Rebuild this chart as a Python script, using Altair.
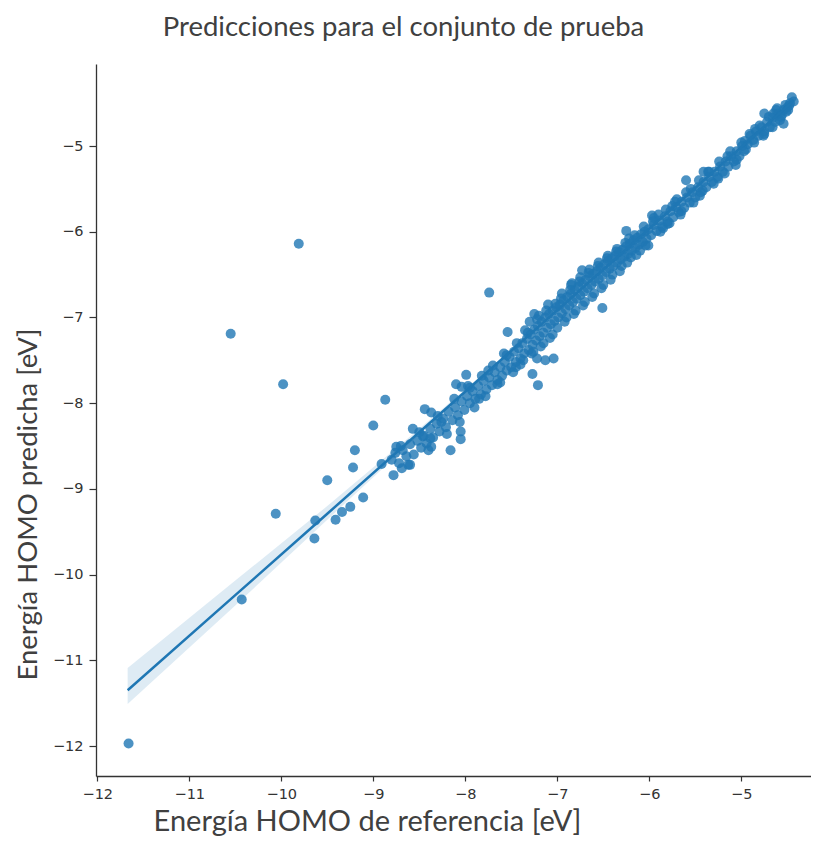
import altair as alt
import pandas as pd

TITLE = "Predicciones para el conjunto de prueba"
X_TITLE = "Energía HOMO de referencia [eV]"
Y_TITLE = "Energía HOMO predicha [eV]"
x_ticks = [-12, -11, -10, -9, -8, -7, -6, -5]
y_ticks = [-12, -11, -10, -9, -8, -7, -6, -5]

# (referencia, predicha)
outlier_points = [
    (-11.66, -11.97), (-10.43, -10.29), (-10.55, -7.19), (-9.81, -6.14), (-9.98, -7.78),
    (-10.06, -9.29), (-9.64, -9.58), (-9.63, -9.37), (-9.50, -8.90), (-9.41, -9.36),
    (-9.34, -9.27), (-9.25, -9.21), (-9.22, -8.75), (-9.20, -8.55), (-9.11, -9.10),
    (-9.00, -8.26), (-8.91, -8.71), (-8.87, -7.96), (-8.78, -8.84), (-8.75, -8.51),
    (-8.69, -8.76), (-8.60, -8.72), (-8.57, -8.30), (-8.44, -8.07), (-8.37, -8.11),
    (-8.38, -8.41), (-8.37, -8.51), (-8.46, -8.39), (-8.26, -8.22), (-8.16, -8.55),
    (-8.05, -8.33), (-8.05, -8.42), (-8.10, -7.78), (-8.04, -7.81), (-7.99, -7.67),
    (-7.74, -6.71), (-7.54, -7.17), (-7.25, -6.96), (-7.27, -7.66), (-7.21, -7.79),
    (-7.22, -7.48), (-7.13, -7.50), (-7.04, -7.48), (-6.73, -6.45), (-6.51, -6.89),
    (-6.84, -6.60), (-6.25, -5.99), (-6.01, -6.16), (-5.97, -5.81), (-5.80, -5.91),
    (-5.60, -5.40), (-5.41, -5.30), (-4.75, -4.62), (-4.54, -4.74), (-4.45, -4.43),
    (-4.43, -4.48),
]

band_a = [
    (-8.80, -8.66), (-8.76, -8.58), (-8.72, -8.70), (-8.68, -8.55), (-8.64, -8.62),
    (-8.60, -8.48), (-8.56, -8.60), (-8.52, -8.44), (-8.48, -8.52), (-8.45, -8.38),
    (-8.42, -8.47), (-8.38, -8.30), (-8.35, -8.40), (-8.31, -8.24), (-8.28, -8.33),
    (-8.24, -8.18), (-8.21, -8.28), (-8.18, -8.10), (-8.14, -8.20), (-8.11, -8.05),
    (-8.08, -8.14), (-8.04, -7.98), (-8.01, -8.08),
    (-8.70, -8.50), (-8.62, -8.72), (-8.50, -8.34), (-8.40, -8.55), (-8.30, -8.15),
    (-8.20, -8.36), (-8.12, -7.95), (-8.06, -8.22),
]

band_b = [
    (-7.98, -7.92), (-7.95, -8.00), (-7.92, -7.86), (-7.89, -7.95), (-7.86, -7.80),
    (-7.83, -7.90), (-7.80, -7.74), (-7.77, -7.84), (-7.74, -7.70), (-7.71, -7.79),
    (-7.68, -7.64), (-7.65, -7.73), (-7.62, -7.58), (-7.60, -7.68), (-7.57, -7.52),
    (-7.55, -7.62), (-7.52, -7.46), (-7.50, -7.58), (-7.47, -7.40), (-7.45, -7.52),
    (-7.42, -7.36), (-7.40, -7.48), (-7.38, -7.30), (-7.36, -7.42), (-7.33, -7.25),
    (-7.31, -7.38), (-7.29, -7.20), (-7.27, -7.32), (-7.25, -7.14), (-7.23, -7.27),
    (-7.21, -7.10), (-7.19, -7.22), (-7.17, -7.05), (-7.15, -7.18), (-7.13, -7.00),
    (-7.11, -7.12), (-7.09, -6.96), (-7.07, -7.08), (-7.05, -6.92), (-7.03, -7.04),
    (-7.01, -6.88),
    (-7.95, -7.82), (-7.85, -7.95), (-7.75, -7.62), (-7.65, -7.78), (-7.55, -7.44),
    (-7.45, -7.58), (-7.35, -7.15), (-7.30, -7.05), (-7.20, -6.98), (-7.10, -6.85),
    (-7.15, -7.30), (-7.05, -7.20), (-7.40, -7.55), (-7.28, -7.42),
    (-7.97, -7.80), (-7.90, -8.05), (-7.82, -7.68), (-7.78, -7.92), (-7.70, -7.56),
    (-7.62, -7.76), (-7.58, -7.42), (-7.48, -7.64), (-7.44, -7.30), (-7.37, -7.50),
    (-7.32, -7.18), (-7.26, -7.40), (-7.22, -7.02), (-7.18, -7.34), (-7.12, -6.92),
    (-7.08, -7.24), (-7.02, -6.84), (-7.00, -7.12),
]

band_c = [
    (-6.99, -7.00), (-6.97, -6.85), (-6.95, -6.95), (-6.93, -6.80), (-6.91, -6.90),
    (-6.89, -6.76), (-6.87, -6.86), (-6.85, -6.72), (-6.83, -6.82), (-6.81, -6.68),
    (-6.79, -6.78), (-6.77, -6.64), (-6.75, -6.74), (-6.73, -6.60), (-6.71, -6.70),
    (-6.69, -6.56), (-6.67, -6.66), (-6.65, -6.52), (-6.63, -6.62), (-6.61, -6.49),
    (-6.59, -6.58), (-6.57, -6.46), (-6.55, -6.55), (-6.53, -6.42), (-6.51, -6.51),
    (-6.49, -6.38), (-6.47, -6.47), (-6.45, -6.34), (-6.43, -6.43), (-6.41, -6.31),
    (-6.39, -6.40), (-6.37, -6.28), (-6.35, -6.36), (-6.33, -6.24), (-6.31, -6.32),
    (-6.29, -6.21), (-6.27, -6.29), (-6.25, -6.17), (-6.23, -6.26), (-6.21, -6.14),
    (-6.19, -6.22), (-6.17, -6.10), (-6.15, -6.19), (-6.13, -6.07), (-6.11, -6.15),
    (-6.09, -6.03), (-6.07, -6.12), (-6.05, -6.00), (-6.03, -6.08), (-6.01, -5.97),
    (-6.90, -7.00), (-6.80, -6.92), (-6.70, -6.82), (-6.60, -6.72), (-6.50, -6.62),
    (-6.40, -6.50), (-6.30, -6.40), (-6.20, -6.30), (-6.10, -6.22), (-6.95, -6.72),
    (-6.85, -6.62), (-6.75, -6.53), (-6.65, -6.44), (-6.55, -6.36), (-6.45, -6.28),
    (-6.35, -6.20), (-6.22, -6.08),
    (-6.96, -6.78), (-6.92, -7.05), (-6.86, -6.68), (-6.82, -6.96), (-6.76, -6.58),
    (-6.72, -6.86), (-6.66, -6.48), (-6.62, -6.76), (-6.56, -6.40), (-6.52, -6.66),
    (-6.46, -6.31), (-6.42, -6.56), (-6.36, -6.23), (-6.32, -6.46), (-6.26, -6.13),
    (-6.24, -6.36), (-6.16, -6.04), (-6.14, -6.27), (-6.06, -5.94), (-6.04, -6.16),
]

band_d = [
    (-5.98, -6.04), (-5.95, -5.92), (-5.92, -5.99), (-5.89, -5.87), (-5.86, -5.94),
    (-5.83, -5.82), (-5.80, -5.88), (-5.77, -5.76), (-5.74, -5.83), (-5.71, -5.71),
    (-5.68, -5.77), (-5.65, -5.65), (-5.62, -5.72), (-5.59, -5.60), (-5.56, -5.66),
    (-5.53, -5.54), (-5.50, -5.60), (-5.47, -5.48), (-5.44, -5.54), (-5.41, -5.42),
    (-5.38, -5.48), (-5.35, -5.36), (-5.32, -5.42), (-5.29, -5.30), (-5.26, -5.36),
    (-5.23, -5.24), (-5.20, -5.30), (-5.17, -5.18), (-5.14, -5.24), (-5.11, -5.12),
    (-5.08, -5.18), (-5.05, -5.06), (-5.02, -5.12),
    (-5.95, -5.84), (-5.85, -5.96), (-5.75, -5.70), (-5.65, -5.76), (-5.55, -5.50),
    (-5.45, -5.58), (-5.35, -5.30), (-5.25, -5.38), (-5.15, -5.12), (-5.05, -5.16),
    (-5.90, -5.80), (-5.70, -5.62),
    (-5.96, -5.88), (-5.88, -6.00), (-5.82, -5.74), (-5.78, -5.90), (-5.72, -5.65),
    (-5.66, -5.80), (-5.60, -5.54), (-5.52, -5.66), (-5.46, -5.40), (-5.42, -5.52),
    (-5.36, -5.30), (-5.30, -5.44), (-5.24, -5.18), (-5.18, -5.32), (-5.12, -5.06),
    (-5.06, -5.22), (-5.00, -4.96),
]

band_e = [
    (-4.99, -5.00), (-4.96, -4.94), (-4.93, -4.98), (-4.90, -4.88), (-4.87, -4.93),
    (-4.84, -4.83), (-4.81, -4.88), (-4.78, -4.78), (-4.75, -4.83), (-4.72, -4.72),
    (-4.69, -4.78), (-4.66, -4.67), (-4.63, -4.72), (-4.60, -4.62), (-4.57, -4.66),
    (-4.54, -4.58), (-4.51, -4.60), (-4.48, -4.53),
    (-4.95, -5.04), (-4.85, -4.80), (-4.75, -4.86), (-4.65, -4.62), (-4.58, -4.70),
    (-4.50, -4.55), (-4.62, -4.58), (-4.47, -4.50),
    (-4.97, -5.06), (-4.91, -4.86), (-4.86, -4.96), (-4.80, -4.76), (-4.76, -4.88),
    (-4.70, -4.66), (-4.66, -4.78), (-4.61, -4.56), (-4.56, -4.64), (-4.52, -4.52),
    (-4.49, -4.58),
]

# fitted line and its confidence band
fit_x = [-11.67, -10.5, -9.5, -8.5, -7.5, -6.5, -5.5, -4.43]
fit_y = [-11.35, -10.24, -9.29, -8.34, -7.39, -6.44, -5.49, -4.47]
ci_low = [-11.51, -10.36, -9.36, -8.37, -7.405, -6.455, -5.505, -4.49]
ci_high = [-11.09, -10.07, -9.20, -8.30, -7.375, -6.425, -5.475, -4.45]

all_points = outlier_points + band_a + band_b + band_c + band_d + band_e
pts = pd.DataFrame(all_points, columns=["ref", "pred"])
fit = pd.DataFrame({"ref": fit_x, "pred": fit_y, "lo": ci_low, "hi": ci_high})

BLUE = "#1f77b4"
xscale = alt.Scale(domain=[-12.014, -4.242], nice=False, zero=False)
yscale = alt.Scale(domain=[-12.35, -4.043], nice=False, zero=False)

xaxis = alt.Axis(
    values=x_ticks, format="d", title=X_TITLE, grid=False,
    tickSize=5, tickColor="#333333", tickWidth=1.2,
    domainColor="#333333", domainWidth=1.3,
    labelFont="DejaVu Sans", labelFontSize=14.5, labelColor="#333333", labelPadding=6,
    titleFont="Lato", titleFontSize=29, titleFontWeight="normal", titleColor="#404040",
    titleX=271, titleY=54, titleAlign="center", titleBaseline="alphabetic",
)
yaxis = alt.Axis(
    values=y_ticks, format="d", title=Y_TITLE, grid=False,
    tickSize=7, tickColor="#333333", tickWidth=1.2,
    domainColor="#333333", domainWidth=1.3,
    labelFont="DejaVu Sans", labelFontSize=14.5, labelColor="#333333", labelPadding=6,
    titleFont="Lato", titleFontSize=27.5, titleFontWeight="normal", titleColor="#404040",
    titleX=-60, titleY=440, titleAngle=270, titleAlign="center", titleBaseline="alphabetic",
)

scatter = alt.Chart(pts).mark_circle(size=100, color=BLUE, opacity=0.8).encode(
    x=alt.X("ref:Q", scale=xscale, axis=xaxis),
    y=alt.Y("pred:Q", scale=yscale, axis=yaxis),
)
band = alt.Chart(fit).mark_area(color=BLUE, opacity=0.15).encode(
    x=alt.X("ref:Q", scale=xscale, axis=xaxis),
    y=alt.Y("lo:Q", scale=yscale, axis=yaxis),
    y2="hi:Q",
)
line = alt.Chart(fit).mark_line(color=BLUE, strokeWidth=2.5).encode(
    x=alt.X("ref:Q", scale=xscale, axis=xaxis),
    y=alt.Y("pred:Q", scale=yscale, axis=yaxis),
)

chart = alt.layer(scatter, band, line).properties(
    width=715,
    height=712,
    title=alt.TitleParams(
        text=TITLE, font="Lato", fontSize=27.5, fontWeight="normal", color="#404040",
        anchor="middle", dx=-50, offset=1, baseline="alphabetic",
    ),
    autosize=alt.AutoSizeParams(type="none"),
    padding={"left": 88, "top": 56, "right": 0, "bottom": 62},
).configure_view(strokeWidth=0)

chart.save("out.html", embed_options={"renderer": "svg", "actions": False})
